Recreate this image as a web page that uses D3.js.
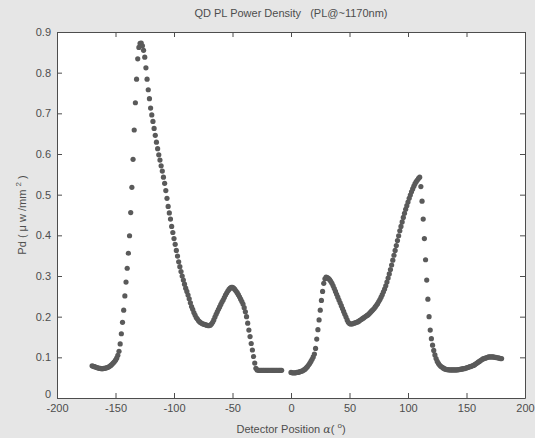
<!DOCTYPE html>
<html>
<head>
<meta charset="utf-8">
<script src="https://cdn.jsdelivr.net/npm/d3@7"></script>
<style>
  body { margin: 0; background: #e6e6e6; }
  svg { display: block; font-family: "Liberation Sans", Arial, sans-serif; }
</style>
</head>
<body>
<svg id="chart" width="535" height="438"></svg>
<script>
// detector angle (deg) and power density, left scan
var leftAngle = [
  -170,-169,-168,-167,-166,-165,-164,-163,-162,-161,
  -160,-159,-158,-157,-156,-155,-154,-153,-152,-151,
  -150,-149,-148,-147,-146,-145,-144,-143,-142,-141,
  -140,-139,-138,-137,-136,-135,-134,-133,-132,-131,
  -130,-129,-128,-127,-126,-125,-124,-123,-122,-121,
  -120,-119,-118,-117,-116,-115,-114,-113,-112,-111,
  -110,-109,-108,-107,-106,-105,-104,-103,-102,-101,
  -100,-99,-98,-97,-96,-95,-94,-93,-92,-91,
  -90,-89,-88,-87,-86,-85,-84,-83,-82,-81,
  -80,-79,-78,-77,-76,-75,-74,-73,-72,-71,
  -70,-69,-68,-67,-66,-65,-64,-63,-62,-61,
  -60,-59,-58,-57,-56,-55,-54,-53,-52,-51,
  -50,-49,-48,-47,-46,-45,-44,-43,-42,-41,
  -40,-39,-38,-37,-36,-35,-34,-33,-32,-31,
  -30,-29,-28,-27,-26,-25,-24,-23,-22,-21,
  -20,-19,-18,-17,-16,-15,-14,-13,-12,-11,
  -10,-9,-8
];
var leftPower = [
  0.079,0.078,0.077,0.076,0.075,0.074,0.073,0.073,0.072,0.072,
  0.073,0.073,0.074,0.075,0.076,0.078,0.080,0.083,0.086,0.089,
  0.093,0.098,0.105,0.115,0.133,0.158,0.186,0.216,0.251,0.285,
  0.319,0.356,0.399,0.456,0.518,0.587,0.659,0.726,0.784,0.834,
  0.862,0.872,0.873,0.866,0.855,0.838,0.812,0.784,0.758,0.736,
  0.713,0.696,0.680,0.663,0.646,0.629,0.613,0.598,0.585,0.571,
  0.558,0.543,0.528,0.510,0.491,0.471,0.455,0.440,0.422,0.407,
  0.392,0.378,0.363,0.349,0.335,0.323,0.311,0.300,0.290,0.280,
  0.270,0.262,0.253,0.244,0.234,0.225,0.218,0.210,0.204,0.198,
  0.194,0.190,0.187,0.185,0.183,0.182,0.181,0.180,0.179,0.178,
  0.178,0.179,0.182,0.186,0.192,0.199,0.206,0.212,0.218,0.224,
  0.230,0.236,0.241,0.247,0.253,0.258,0.263,0.267,0.270,0.272,
  0.272,0.270,0.267,0.263,0.259,0.254,0.249,0.243,0.237,0.231,
  0.222,0.212,0.200,0.184,0.167,0.151,0.134,0.118,0.102,0.086,
  0.073,0.069,0.068,0.068,0.068,0.068,0.068,0.068,0.068,0.068,
  0.068,0.068,0.068,0.068,0.068,0.068,0.068,0.068,0.068,0.068,
  0.068,0.068,0.068
];
// right scan
var rightAngle = [
  0,1,2,3,4,5,6,7,8,9,
  10,11,12,13,14,15,16,17,18,19,
  20,21,22,23,24,25,26,27,28,29,
  30,31,32,33,34,35,36,37,38,39,
  40,41,42,43,44,45,46,47,48,49,
  50,51,52,53,54,55,56,57,58,59,
  60,61,62,63,64,65,66,67,68,69,
  70,71,72,73,74,75,76,77,78,79,
  80,81,82,83,84,85,86,87,88,89,
  90,91,92,93,94,95,96,97,98,99,
  100,101,102,103,104,105,106,107,108,109,
  110,111,112,113,114,115,116,117,118,119,
  120,121,122,123,124,125,126,127,128,129,
  130,131,132,133,134,135,136,137,138,139,
  140,141,142,143,144,145,146,147,148,149,
  150,151,152,153,154,155,156,157,158,159,
  160,161,162,163,164,165,166,167,168,169,
  170,171,172,173,174,175,176,177,178,179,
  180
];
var rightPower = [
  0.063,0.062,0.062,0.062,0.062,0.063,0.063,0.064,0.065,0.066,
  0.067,0.069,0.071,0.074,0.077,0.081,0.085,0.090,0.095,0.101,
  0.108,0.122,0.145,0.168,0.192,0.216,0.240,0.262,0.282,0.293,
  0.297,0.296,0.294,0.291,0.287,0.282,0.276,0.269,0.262,0.255,
  0.248,0.241,0.234,0.227,0.220,0.213,0.206,0.199,0.192,0.186,
  0.183,0.182,0.182,0.183,0.184,0.185,0.186,0.187,0.189,0.191,
  0.193,0.195,0.197,0.199,0.201,0.203,0.205,0.208,0.211,0.214,
  0.217,0.220,0.224,0.228,0.232,0.237,0.242,0.248,0.254,0.261,
  0.268,0.276,0.285,0.295,0.305,0.316,0.327,0.339,0.351,0.363,
  0.375,0.387,0.399,0.411,0.422,0.433,0.444,0.454,0.464,0.473,
  0.482,0.491,0.499,0.507,0.514,0.521,0.527,0.532,0.536,0.540,
  0.543,0.520,0.484,0.440,0.392,0.340,0.290,0.243,0.200,0.167,
  0.146,0.130,0.117,0.106,0.097,0.090,0.085,0.081,0.078,0.076,
  0.074,0.072,0.071,0.070,0.070,0.069,0.069,0.069,0.069,0.069,
  0.069,0.069,0.069,0.070,0.070,0.071,0.071,0.072,0.072,0.073,
  0.074,0.075,0.076,0.077,0.078,0.079,0.080,0.082,0.084,0.086,
  0.088,0.090,0.092,0.094,0.096,0.097,0.098,0.099,0.100,0.101,
  0.101,0.101,0.101,0.101,0.100,0.100,0.099,0.099,0.098,0.097,
  0.097
];
var xTicks = [-200, -150, -100, -50, 0, 50, 100, 150, 200];
var yTicks = [0, 0.1, 0.2, 0.3, 0.4, 0.5, 0.6, 0.7, 0.8, 0.9];

var W = 535, H = 438,
    MARGINS = { top: 32, right: 10, bottom: 40, left: 57 },
    svg = d3.select("#chart"),
    ink = "#4d4d4d";

var xScale = d3.scaleLinear().domain([-200, 200]).range([MARGINS.left, W - MARGINS.right]);
var yScale = d3.scaleLinear().domain([0, 0.9]).range([H - MARGINS.bottom, MARGINS.top]);

var points = [];
leftAngle.forEach(function (a, i) { points.push({ a: a, p: leftPower[i] }); });
rightAngle.forEach(function (a, i) { points.push({ a: a, p: rightPower[i] }); });

// plot area
svg.append("rect")
  .attr("x", MARGINS.left).attr("y", MARGINS.top)
  .attr("width", W - MARGINS.left - MARGINS.right)
  .attr("height", H - MARGINS.top - MARGINS.bottom)
  .attr("fill", "#fff");

svg.append("g").selectAll("circle")
  .data(points)
  .enter()
  .append("circle")
  .attr("cx", function (d) { return xScale(d.a); })
  .attr("cy", function (d) { return yScale(d.p); })
  .attr("r", 2.6)
  .attr("fill", "#5a5a5a");

// axes, MATLAB style ticks pointing inwards
var xAxis = d3.axisBottom(xScale).tickValues(xTicks).tickSizeInner(-5).tickSizeOuter(0).tickPadding(6)
  .tickFormat(function (d) { return String(d); });
var xTop = d3.axisTop(xScale).tickValues(xTicks).tickSizeInner(-5).tickSizeOuter(0).tickFormat("");
var yAxis = d3.axisLeft(yScale).tickValues(yTicks).tickSizeInner(-5).tickSizeOuter(0).tickPadding(6)
  .tickFormat(function (d) { return d === 0 ? "0" : d3.format(".1f")(d); });
var yRight = d3.axisRight(yScale).tickValues(yTicks).tickSizeInner(-5).tickSizeOuter(0).tickFormat("");

svg.append("g").attr("transform", "translate(0," + (H - MARGINS.bottom) + ")").call(xAxis);
svg.append("g").attr("transform", "translate(0," + MARGINS.top + ")").call(xTop);
var gy = svg.append("g").attr("transform", "translate(" + MARGINS.left + ",0)").call(yAxis);
svg.append("g").attr("transform", "translate(" + (W - MARGINS.right) + ",0)").call(yRight);

// the zero label sits a little higher, clear of the -200 below it
gy.selectAll(".tick text").filter(function (d) { return d === 0; }).attr("dy", "-0.05em");

svg.selectAll(".domain, .tick line").attr("stroke", ink);
svg.selectAll(".tick text").attr("fill", ink).attr("font-size", 11)
  .attr("font-family", "'Liberation Sans', Arial, sans-serif");

// title and labels
var cx = (MARGINS.left + W - MARGINS.right) / 2;
svg.append("text")
  .attr("x", cx).attr("y", 17)
  .attr("text-anchor", "middle").attr("font-size", 11).attr("fill", ink)
  .attr("xml:space", "preserve")
  .text("QD PL Power Density   (PL@~1170nm)");

var xl = svg.append("text")
  .attr("x", cx).attr("y", 433)
  .attr("text-anchor", "middle").attr("font-size", 11).attr("fill", ink);
xl.append("tspan").text("Detector Position ");
xl.append("tspan").attr("font-style", "italic").attr("font-family", "'DejaVu Serif', serif").text("α");
xl.append("tspan").text("( ");
xl.append("tspan").attr("dy", -5).attr("font-size", 8).text("o");
xl.append("tspan").attr("dy", 5).text(")");

var yl = svg.append("text")
  .attr("transform", "translate(26," + (MARGINS.top + H - MARGINS.bottom) / 2 + ") rotate(-90)")
  .attr("text-anchor", "middle").attr("font-size", 11).attr("fill", ink)
  .attr("xml:space", "preserve");
yl.append("tspan").text("Pd ( μ w /mm ");
yl.append("tspan").attr("dy", -5).attr("font-size", 8).text("2");
yl.append("tspan").attr("dy", 5).text(" )");
</script>
</body>
</html>
